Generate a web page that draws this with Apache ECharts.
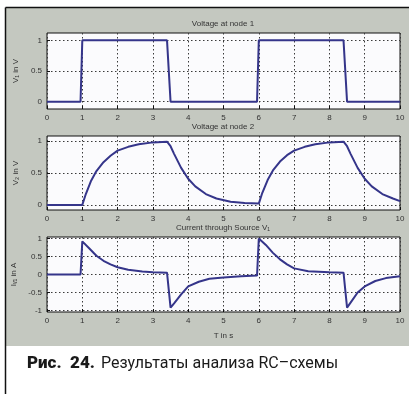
<!DOCTYPE html>
<html>
<head>
<meta charset="utf-8">
<script src="https://cdn.jsdelivr.net/npm/echarts@6/dist/echarts.min.js"></script>
<style>
  html, body { margin: 0; padding: 0; background: #fff; }
  #main { width: 409px; height: 394px; }
</style>
</head>
<body>
<div id="main"></div>
<script>
// Voltage at node 1 (input pulse)
const t1 = [0, 0.95, 1.0, 3.4, 3.5, 5.95, 6.0, 8.4, 8.5, 10];
const v1 = [0, 0, 1, 1, 0, 0, 1, 1, 0, 0];

// Voltage at node 2 (capacitor)
const t2 = [0, 1.0, 1.1, 1.25, 1.4, 1.6, 1.8, 2.0, 2.3, 2.6, 3.0, 3.4, 3.5, 3.6, 3.8, 4.0, 4.2, 4.5, 4.8, 5.2, 5.6, 6.0,
            6.1, 6.25, 6.4, 6.6, 6.8, 7.0, 7.3, 7.6, 8.0, 8.4, 8.5, 8.6, 8.8, 9.0, 9.2, 9.5, 9.8, 10];
const v2 = [0, 0, 0.17, 0.38, 0.53, 0.67, 0.77, 0.85, 0.91, 0.95, 0.98, 0.99, 0.92, 0.80, 0.58, 0.41, 0.29, 0.17, 0.10, 0.05, 0.03, 0.02,
            0.19, 0.39, 0.54, 0.68, 0.78, 0.85, 0.91, 0.95, 0.98, 0.99, 0.92, 0.80, 0.58, 0.41, 0.29, 0.17, 0.10, 0.06];

// Current through source V1
const t3 = [0, 0.95, 1.0, 1.2, 1.4, 1.6, 1.8, 2.0, 2.3, 2.7, 3.0, 3.4, 3.5, 3.6, 3.8, 4.0, 4.3, 4.6, 5.0, 5.5, 5.95,
            6.0, 6.2, 6.4, 6.6, 6.8, 7.0, 7.4, 8.0, 8.4, 8.5, 8.6, 8.8, 9.0, 9.3, 9.6, 10];
const i3 = [0, 0, 0.92, 0.72, 0.52, 0.38, 0.28, 0.2, 0.13, 0.08, 0.06, 0.05, -0.92, -0.8, -0.55, -0.33, -0.2, -0.12, -0.08, -0.05, -0.03,
            1.0, 0.82, 0.6, 0.42, 0.28, 0.17, 0.09, 0.06, 0.05, -0.92, -0.78, -0.5, -0.33, -0.18, -0.1, -0.05];

const xTicks = [0, 1, 2, 3, 4, 5, 6, 7, 8, 9, 10];
const yTicksV = [0, 0.5, 1];
const yTicksI = [-1, -0.5, 0, 0.5, 1];

const titles = ["Voltage at node 1", "Voltage at node 2", "Current through Source V\u2081"];
const yNames = ["V\u2081 in V", "V\u2082 in V", "I\u1D65\u2081 in A"];

const chart = echarts.init(document.getElementById("main"));

const font = "Liberation Sans";
const lineColor = "#35358a";
const gridTops = [33, 136, 237];
const gridHeights = [76, 74, 75];
const yRanges = [[-0.12, 1.12], [-0.08, 1.08], [-1.04, 1.04]];
const dotted = { color: "#3a3a3a", type: [1.5, 2.5], width: 1 };

const grids = gridTops.map((top, k) => ({
  left: 47,
  right: 9,
  top: top,
  height: gridHeights[k],
  show: true,
  backgroundColor: "#fbfbfd",
  borderColor: "#111",
  borderWidth: 1,
}));

const xAxes = gridTops.map((top, k) => ({
  type: "value",
  gridIndex: k,
  min: 0,
  max: 10,
  interval: 1,
  name: k === 2 ? "T in s" : "",
  nameLocation: "middle",
  nameGap: 20,
  nameTextStyle: { fontSize: 8, color: "#333", fontFamily: font },
  axisLine: { show: false, onZero: false },
  axisTick: { show: true, inside: true, length: 3, lineStyle: { color: "#111" } },
  axisLabel: { fontSize: 8, color: "#333", fontFamily: font, margin: 5, customValues: xTicks },
  splitLine: { show: true, lineStyle: dotted },
}));

const yAxes = gridTops.map((top, k) => ({
  type: "value",
  gridIndex: k,
  min: yRanges[k][0],
  max: yRanges[k][1],
  name: yNames[k],
  nameLocation: "middle",
  nameGap: k === 2 ? 22 : 20,
  nameRotate: 90,
  nameTextStyle: { fontSize: 8, color: "#333", fontFamily: font },
  axisLine: { show: false },
  axisTick: { show: true, inside: true, length: 3, customValues: k === 2 ? yTicksI : yTicksV, lineStyle: { color: "#111" } },
  axisLabel: { fontSize: 8, color: "#333", fontFamily: font, margin: 5, customValues: k === 2 ? yTicksI : yTicksV },
  splitLine: { show: true, lineStyle: dotted },
}));

const toPairs = (ts, vs) => ts.map((t, i) => [t, vs[i]]);
const seriesData = [toPairs(t1, v1), toPairs(t2, v2), toPairs(t3, i3)];

chart.setOption({
  animation: false,
  backgroundColor: "#fff",
  grid: grids,
  xAxis: xAxes,
  yAxis: yAxes,
  series: seriesData.map((d, k) => ({
    type: "line",
    xAxisIndex: k,
    yAxisIndex: k,
    data: d,
    symbol: "none",
    lineStyle: { color: lineColor, width: 2 },
  })),
  graphic: [
    // grey figure background and frame
    { type: "rect", z: -10, shape: { x: 6, y: 8, width: 403, height: 338 }, style: { fill: "#c4c8c0" } },
    { type: "line", z: 10, shape: { x1: 5.5, y1: 7.5, x2: 409, y2: 7.5 }, style: { stroke: "#111", lineWidth: 1.5 } },
    { type: "line", z: 10, shape: { x1: 5.5, y1: 7.5, x2: 5.5, y2: 394 }, style: { stroke: "#111", lineWidth: 1.5 } },
    ...titles.map((s, k) => ({
      type: "text",
      z: 10,
      style: {
        x: 223, y: gridTops[k] - 9, text: s, align: "center", verticalAlign: "middle",
        fontSize: 8, fill: "#333", fontFamily: font,
      },
    })),
    {
      type: "text",
      z: 10,
      style: {
        x: 27, y: 364, verticalAlign: "middle", text: "Рис.  24.",
        fontSize: 17, fontWeight: 900, fontFamily: "Roboto", fill: "#1a1a1a",
      },
    },
    {
      type: "text",
      z: 10,
      style: {
        x: 101, y: 364, verticalAlign: "middle", text: "Результаты анализа RC\u2013схемы",
        fontSize: 16, fontFamily: "Roboto", fill: "#1a1a1a",
      },
    },
  ],
});
</script>
</body>
</html>
